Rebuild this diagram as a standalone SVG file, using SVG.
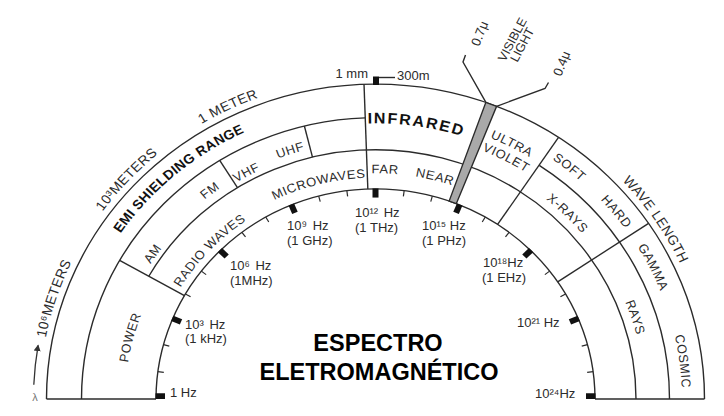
<svg xmlns="http://www.w3.org/2000/svg" width="724" height="416" viewBox="0 0 724 416">
<style>
.ln{fill:none;stroke:#2b2b2b;stroke-width:1.4}
.dv{stroke:#2b2b2b;stroke-width:1.4}
.mt{stroke:#2b2b2b;stroke-width:1.2}
.tk{fill:#111}
.t{font-family:"Liberation Sans",Arial,sans-serif;fill:#2b2b2b}
.lb{font-size:13px;text-anchor:middle;letter-spacing:0.6px}
.ol{font-size:14px;text-anchor:middle;letter-spacing:0.4px}
.bd{font-weight:bold;fill:#111}
.fq{font-size:13px}
.title{font-family:"Liberation Sans",Arial,sans-serif;font-weight:bold;font-size:23.5px;fill:#000;text-anchor:middle}
</style>
<defs>
<path id="o336" d="M -336 0 A 336 336 0 0 1 336 0"/>
<path id="b306" d="M -306.5 0 A 306.5 306.5 0 0 1 306.5 0"/>
<path id="b308" d="M -308 0 A 308 308 0 0 1 308 0"/>
<path id="b288" d="M -288 0 A 288 288 0 0 1 288 0"/>
<path id="b295" d="M -296 0 A 296 296 0 0 1 296 0"/>
<path id="b281" d="M -280.5 0 A 280.5 280.5 0 0 1 280.5 0"/>
<path id="m265" d="M -265.5 0 A 265.5 265.5 0 0 1 265.5 0"/>
<path id="m269" d="M -269.5 0 A 269.5 269.5 0 0 1 269.5 0"/>
<path id="i227" d="M -227 0 A 227 227 0 0 1 227 0"/>
<path id="i231" d="M -231.3 0 A 231.3 231.3 0 0 1 231.3 0"/>
<path id="i236" d="M -236 0 A 236 236 0 0 1 236 0"/>
<path id="p250" d="M -250.3 0 A 250.3 250.3 0 0 1 250.3 0"/>
<marker id="ah" markerWidth="9" markerHeight="9" refX="6" refY="4.5" orient="auto" markerUnits="userSpaceOnUse"><path d="M0,1 L7,4.5 L0,8 Z" fill="#333"/></marker>
</defs>
<rect width="724" height="416" fill="#fff"/>
<g transform="translate(375.5,399) scale(1,0.957)">
 <g id="connectors">
  <path class="ln" d="M -329 0 A 329 329 0 0 1 329 0"/>
  <path class="ln" d="M -294 0 A 294 294 0 0 1 -10.26 -293.82"/>
  <path class="ln" d="M 163.76 -244.17 A 294 294 0 0 1 294 0"/>
  <path class="ln" d="M -226.7 -128.3 A 260.5 260.5 0 0 1 260.5 0"/>
  <path class="ln" d="M -219.5 0 A 219.5 219.5 0 0 1 219.5 0"/>
  <line class="dv" x1="-329" y1="0" x2="-219.5" y2="0"/>
  <line class="dv" x1="219.5" y1="0" x2="329" y2="0"/>
  <line class="dv" x1="219.5" y1="0" x2="294" y2="0" transform="rotate(-150.5)"/>
  <line class="dv" x1="260.5" y1="0" x2="294" y2="0" transform="rotate(-122)"/>
  <line class="dv" x1="260.5" y1="0" x2="294" y2="0" transform="rotate(-104)"/>
  <line class="dv" x1="219.5" y1="0" x2="329" y2="0" transform="rotate(-92)"/>
  <line class="dv" x1="219.5" y1="0" x2="329" y2="0" transform="rotate(-56.2)"/>
  <line class="dv" x1="219.5" y1="0" x2="329" y2="0" transform="rotate(-33.9)"/>
  <path id="visible-bar" d="M 73.63 -206.78 L 110.36 -309.94 A 329 329 0 0 1 121.11 -305.9 L 80.8 -204.09 A 219.5 219.5 0 0 0 73.63 -206.78 Z" fill="#a9a9a9" stroke="#2b2b2b" stroke-width="1.4"/>
  <path d="M -341.7 -14.9 A 342 342 0 0 1 -337.4 -56" fill="none" stroke="#333" stroke-width="1.3" marker-end="url(#ah)"/>
  <g id="ticks">
   <rect class="tk" x="-220" y="-6" width="9.5" height="6"/>
   <rect class="tk" x="210.5" y="-6" width="9.5" height="6"/>
   <rect class="tk" x="210.5" y="-3" width="9.5" height="6" transform="rotate(-157.5)"/>
   <rect class="tk" x="210.5" y="-3" width="9.5" height="6" transform="rotate(-135)"/>
   <rect class="tk" x="210.5" y="-3" width="9.5" height="6" transform="rotate(-112.5)"/>
   <rect class="tk" x="210.5" y="-3" width="9.5" height="6" transform="rotate(-90)"/>
   <rect class="tk" x="210.5" y="-3" width="9.5" height="6" transform="rotate(-67.5)"/>
   <rect class="tk" x="210.5" y="-3" width="9.5" height="6" transform="rotate(-45)"/>
   <rect class="tk" x="210.5" y="-3" width="9.5" height="6" transform="rotate(-22.5)"/>
   <line class="mt" x1="213.5" x2="219.5" y1="0" y2="0" transform="rotate(-172.5)"/>
   <line class="mt" x1="213.5" x2="219.5" y1="0" y2="0" transform="rotate(-165)"/>
   <line class="mt" x1="213.5" x2="219.5" y1="0" y2="0" transform="rotate(-150)"/>
   <line class="mt" x1="213.5" x2="219.5" y1="0" y2="0" transform="rotate(-142.5)"/>
   <line class="mt" x1="213.5" x2="219.5" y1="0" y2="0" transform="rotate(-127.5)"/>
   <line class="mt" x1="213.5" x2="219.5" y1="0" y2="0" transform="rotate(-120)"/>
   <line class="mt" x1="213.5" x2="219.5" y1="0" y2="0" transform="rotate(-105)"/>
   <line class="mt" x1="213.5" x2="219.5" y1="0" y2="0" transform="rotate(-97.5)"/>
   <line class="mt" x1="213.5" x2="219.5" y1="0" y2="0" transform="rotate(-82.5)"/>
   <line class="mt" x1="213.5" x2="219.5" y1="0" y2="0" transform="rotate(-75)"/>
   <line class="mt" x1="213.5" x2="219.5" y1="0" y2="0" transform="rotate(-60)"/>
   <line class="mt" x1="213.5" x2="219.5" y1="0" y2="0" transform="rotate(-52.5)"/>
   <line class="mt" x1="213.5" x2="219.5" y1="0" y2="0" transform="rotate(-37.5)"/>
   <line class="mt" x1="213.5" x2="219.5" y1="0" y2="0" transform="rotate(-30)"/>
   <line class="mt" x1="213.5" x2="219.5" y1="0" y2="0" transform="rotate(-15)"/>
   <line class="mt" x1="213.5" x2="219.5" y1="0" y2="0" transform="rotate(-7.5)"/>
  </g>
 </g>
 <g id="wavelength-labels">
  <text class="t ol"><textPath href="#o336" startOffset="10.06%">10⁶METERS</textPath></text>
  <text class="t ol"><textPath href="#o336" startOffset="23.72%">10³METERS</textPath></text>
  <text class="t ol"><textPath href="#o336" startOffset="35.67%">1 METER</textPath></text>
  <text class="t ol"><textPath href="#o336" startOffset="81.22%">WAVE LENGTH</textPath></text>
 </g>
 <g id="emi-shielding"><text class="t bd" font-size="14" text-anchor="middle" letter-spacing="0.3"><textPath href="#b308" startOffset="27.5%">EMI SHIELDING RANGE</textPath></text></g>
 <g id="infrared"><text class="t bd" font-size="16" text-anchor="middle" letter-spacing="1.8"><textPath href="#b288" startOffset="54.5%">INFRARED</textPath></text></g>
 <g id="ultraviolet">
  <text class="t lb"><textPath href="#b295" startOffset="65.06%">ULTRA</textPath></text>
  <text class="t lb"><textPath href="#b281" startOffset="65.22%">VIOLET</textPath></text>
 </g>
 <g id="x-rays">
  <text class="t lb"><textPath href="#b306" startOffset="71.5%">SOFT</textPath></text>
  <text class="t lb"><textPath href="#b306" startOffset="78.28%">HARD</textPath></text>
  <text class="t lb"><textPath href="#m269" startOffset="74.83%">X-RAYS</textPath></text>
 </g>
 <g id="gamma-rays">
  <text class="t lb"><textPath href="#b306" startOffset="85.33%">GAMMA</textPath></text>
  <text class="t lb"><textPath href="#m269" startOffset="89.89%">RAYS</textPath></text>
 </g>
 <g id="cosmic"><text class="t lb"><textPath href="#b306" startOffset="95.94%">COSMIC</textPath></text></g>
 <g id="power"><text class="t lb"><textPath href="#p250" startOffset="8.17%">POWER</textPath></text></g>
 <g id="am"><text class="t lb"><textPath href="#m265" startOffset="19.06%">AM</textPath></text></g>
 <g id="fm"><text class="t lb"><textPath href="#m269" startOffset="29.3%">FM</textPath></text></g>
 <g id="vhf"><text class="t lb"><textPath href="#m265" startOffset="34.1%">VHF</textPath></text></g>
 <g id="uhf"><text class="t lb"><textPath href="#m269" startOffset="39.89%">UHF</textPath></text></g>
 <g id="radio-waves"><text class="t lb"><textPath href="#i227" startOffset="23.94%">RADIO WAVES</textPath></text></g>
 <g id="microwaves"><text class="t lb"><textPath href="#i231" startOffset="42.11%">MICROWAVES</textPath></text></g>
 <g id="far"><text class="t lb"><textPath href="#i236" startOffset="51.28%">FAR</textPath></text></g>
 <g id="near"><text class="t lb"><textPath href="#i236" startOffset="58%">NEAR</textPath></text></g>
</g>
<g id="visible-light">
 <polyline class="ln" points="485.9,102.4 463,62 465.5,55"/>
 <polyline class="ln" points="496.6,106.3 545,88.5 548.5,82.5"/>
 <text class="t" font-size="13" transform="translate(479,47) rotate(-68)">0.7μ</text>
 <text class="t" font-size="12.5" text-anchor="middle" transform="translate(517,42) rotate(-62)"><tspan x="0" y="-1">VISIBLE</tspan><tspan x="0" y="10">LIGHT</tspan></text>
 <text class="t" font-size="13" transform="translate(561,77) rotate(-68)">0.4μ</text>
</g>
<g id="mm-marker">
 <rect class="tk" x="373" y="76.5" width="6" height="8.5"/>
 <line class="dv" x1="379" y1="77.5" x2="395" y2="77.5"/>
 <text class="t" font-size="13" x="368" y="78" text-anchor="end">1 mm</text>
 <text class="t" font-size="13" x="397" y="79.5">300m</text>
</g>
<text class="t" font-size="11" x="35" y="401" text-anchor="middle" style="fill:#777">λ</text>
<g id="frequency-labels" class="t fq" font-size="13">
 <text x="170" y="397">1 Hz</text>
 <text x="185" y="328.5" word-spacing="2">10³ Hz</text>
 <text x="185" y="343">(1 kHz)</text>
 <text x="230" y="269.5" word-spacing="2">10⁶ Hz</text>
 <text x="230" y="284.5">(1MHz)</text>
 <text x="287" y="229.5" word-spacing="2">10⁹ Hz</text>
 <text x="287" y="244.5">(1 GHz)</text>
 <text x="355" y="216.5" word-spacing="2">10¹² Hz</text>
 <text x="355" y="231.5">(1 THz)</text>
 <text x="422" y="229.5">10¹⁵ Hz</text>
 <text x="422" y="244.5">(1 PHz)</text>
 <text x="483" y="266.5">10¹⁸Hz</text>
 <text x="482" y="281.5">(1 EHz)</text>
 <text x="517" y="326.5">10²¹ Hz</text>
 <text x="535" y="397.5">10²⁴Hz</text>
</g>
<g id="title">
 <text class="title" x="378" y="350.5">ESPECTRO</text>
 <text class="title" x="379" y="380">ELETROMAGNÉTICO</text>
</g>
</svg>
